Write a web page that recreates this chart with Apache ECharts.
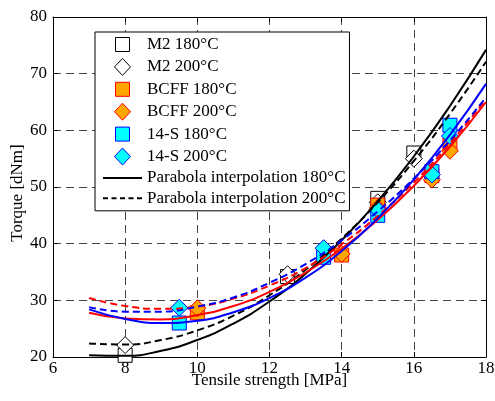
<!DOCTYPE html>
<html>
<head>
<meta charset="utf-8">
<script src="https://cdn.jsdelivr.net/npm/echarts@6/dist/echarts.min.js"></script>
<style>
html,body{margin:0;padding:0;background:#fff;}
#chart{width:495px;height:401px;}
</style>
</head>
<body>
<div id="chart"></div>
<script>
// Measured points
const m2_180 = [[8,20.3],[12.5,34.2],[15,48.0],[16,56.0]];
const m2_200 = [[8,22.1],[12.5,34.6],[15,47.3],[16,55.0]];
const bcff_180 = [[10,27.8],[14,38.0],[15,46.8],[16.5,52.0],[17,57.4]];
const bcff_200 = [[10,28.6],[14,38.2],[15,46.3],[16.5,51.3],[17,56.4]];
const s14_180 = [[9.5,26.0],[13.5,37.6],[15,45.0],[16.5,52.7],[17,60.9]];
const s14_200 = [[9.5,28.7],[13.5,39.2],[15,46.0],[16.5,52.2],[17,59.0]];

// Parabola interpolation curves read at these x positions
const curveX = [7,8,9,10,11,12,13,14,15,16,17,18];
const fit_m2_180   = [20.3,20.2,21.1,23.0,25.9,29.8,34.7,40.6,47.5,55.4,64.3,74.2];
const fit_m2_200   = [22.4,22.2,23.0,24.7,27.3,30.9,35.4,40.9,47.3,54.6,62.9,72.1];
const fit_bcff_180 = [27.8,26.8,26.6,27.4,29.0,31.5,34.9,39.1,44.2,50.2,57.1,65.0];
const fit_bcff_200 = [30.4,29.0,28.5,28.9,30.3,32.6,35.7,39.9,44.9,50.8,57.7,65.5];
const fit_s14_180  = [28.4,26.7,26.0,26.4,27.9,30.4,34.0,38.7,44.5,51.3,59.2,68.2];
const fit_s14_200  = [28.8,28.0,28.0,28.9,30.5,33.1,36.4,40.6,45.7,51.5,58.2,65.8];

const legendNames = ['M2 180°C','M2 200°C','BCFF 180°C','BCFF 200°C','14-S 180°C','14-S 200°C','Parabola interpolation 180°C','Parabola interpolation 200°C'];

const FONT = 'Liberation Serif';
function pairs(xs, ys){ return xs.map((x,i)=>[x, ys[i]]); }

function scatter(name, data, symbol, size, fill, edge){
  return {name, type:'scatter', data, symbol, symbolSize:size, z:2,
    itemStyle:{color:fill, borderColor:edge, borderWidth:1, opacity:1}};
}
function curve(name, ys, color, dashed){
  return {name, type:'line', data:pairs(curveX, ys), smooth:true, symbol:'none', z:3,
    lineStyle:{color, width:2, type: dashed ? [7,4] : 'solid'}, itemStyle:{color}};
}

// legend icons (paths keep their aspect inside the 39x18 icon box)
const ICON_SQUARE  = 'path://M0,0L0,0M2,2L16,2L16,16L2,16Z M18,18L18,18';
const ICON_DIAMOND = 'path://M0,0L0,0M9,0.5L17,9L9,17.5L1,9Z M18,18L18,18';
const ICON_SOLID   = 'path://M0,8L39,8L39,10L0,10Z';
const ICON_DASHED  = 'path://M0,8h5v2h-5z M8.5,8h5v2h-5z M17,8h5v2h-5z M25.5,8h5v2h-5z M34,8h5v2h-5z';
function legItem(name, icon, fill, edge){
  return {name, icon, itemStyle:{color:fill, borderColor:edge, borderWidth: edge ? 1 : 0}};
}

const chart = echarts.init(document.getElementById('chart'));
const gridAxisCommon = {
  axisLine:{show:true, lineStyle:{color:'#000', width:1}},
  axisTick:{show:true, inside:true, length:5, lineStyle:{color:'#000'}},
};
chart.setOption({
  animation:false,
  backgroundColor:'#fff',
  textStyle:{fontFamily:FONT},
  grid:{left:53, right:9, top:17, bottom:44, show:false, containLabel:false, outerBoundsMode:'none'},
  legend:{
    data:[
      legItem(legendNames[0], ICON_SQUARE, '#fff', '#000'),
      legItem(legendNames[1], ICON_DIAMOND, '#fff', '#000'),
      legItem(legendNames[2], ICON_SQUARE, '#FFA500', '#FF0000'),
      legItem(legendNames[3], ICON_DIAMOND, '#FFA500', '#FF0000'),
      legItem(legendNames[4], ICON_SQUARE, '#00FFFF', '#0000FF'),
      legItem(legendNames[5], ICON_DIAMOND, '#00FFFF', '#0000FF'),
      legItem(legendNames[6], ICON_SOLID, '#000', null),
      legItem(legendNames[7], ICON_DASHED, '#000', null)
    ],
    orient:'vertical', left:95, top:32,
    backgroundColor:'#fff', borderColor:'#000', borderWidth:1,
    padding:[3,4,4,8], itemWidth:39, itemHeight:18, itemGap:3.4,
    textStyle:{fontFamily:FONT, fontSize:17, color:'#000', lineHeight:17},
    symbolKeepAspect:true
  },
  xAxis:[
    Object.assign({type:'value', min:6, max:18, interval:2, position:'bottom',
      name:'Tensile strength [MPa]', nameLocation:'middle', nameGap:15, nameMoveOverlap:false,
      nameTextStyle:{fontFamily:FONT, fontSize:17, color:'#000'},
      axisLabel:{fontFamily:FONT, fontSize:17, color:'#000', margin:3},
      splitLine:{show:true, lineStyle:{color:'#444', width:1, type:[8,5]}}}, gridAxisCommon),
    Object.assign({type:'value', min:6, max:18, interval:2, position:'top',
      axisLabel:{show:false}, splitLine:{show:false}}, gridAxisCommon)
  ],
  yAxis:[
    Object.assign({type:'value', min:20, max:80, interval:10, position:'left',
      name:'Torque [dNm]', nameLocation:'middle', nameGap:27, nameMoveOverlap:false,
      nameTextStyle:{fontFamily:FONT, fontSize:17, color:'#000', padding:[0,12,0,0]},
      axisLabel:{fontFamily:FONT, fontSize:17, color:'#000', margin:6},
      splitLine:{show:true, lineStyle:{color:'#444', width:1, type:[8,5]}}}, gridAxisCommon),
    Object.assign({type:'value', min:20, max:80, interval:10, position:'right',
      axisLabel:{show:false}, splitLine:{show:false}}, gridAxisCommon)
  ],
  series:[
    scatter(legendNames[0], m2_180, 'rect', 14, '#fff', '#000'),
    scatter(legendNames[1], m2_200, 'diamond', 17, '#fff', '#000'),
    scatter(legendNames[2], bcff_180, 'rect', 14, '#FFA500', '#FF0000'),
    scatter(legendNames[3], bcff_200, 'diamond', 17, '#FFA500', '#FF0000'),
    scatter(legendNames[4], s14_180, 'rect', 14, '#00FFFF', '#0000FF'),
    scatter(legendNames[5], s14_200, 'diamond', 17, '#00FFFF', '#0000FF'),
    curve(legendNames[6], fit_m2_180, '#000', false),
    curve(legendNames[7], fit_m2_200, '#000', true),
    curve('BCFF fit 180', fit_bcff_180, '#FF0000', false),
    curve('BCFF fit 200', fit_bcff_200, '#FF0000', true),
    curve('14-S fit 180', fit_s14_180, '#0000FF', false),
    curve('14-S fit 200', fit_s14_200, '#0000FF', true)
  ]
});
</script>
</body>
</html>
